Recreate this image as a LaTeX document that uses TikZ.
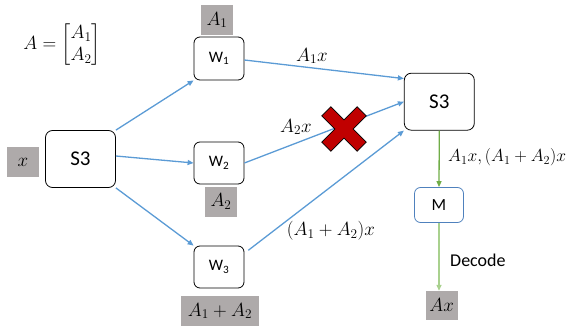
\RequirePackage{fix-cm}
\documentclass[tikz,border=0pt]{standalone}
\usepackage{amsmath}
\usepackage{fontspec}
\setmainfont{Carlito}
\usetikzlibrary{arrows.meta,calc}
\definecolor{lineblue}{RGB}{91,155,213}
\definecolor{boxgray}{RGB}{174,170,170}
\definecolor{xred}{RGB}{192,0,0}
\definecolor{dgreen}{RGB}{112,173,71}
\definecolor{lgreen}{RGB}{169,209,142}
\definecolor{mblue}{RGB}{79,129,189}
\tikzset{
  rbox/.style={draw=black, line width=0.8pt, rounded corners=7pt, inner sep=0pt, font=\fontsize{16}{19}\selectfont},
  sbox/.style={rbox, minimum width=70pt, minimum height=57pt, font=\fontsize{21}{24}\selectfont},
  wbox/.style={rbox, minimum width=50pt, minimum height=42pt, rounded corners=6pt},
  gbox/.style={fill=boxgray, inner sep=0pt, minimum width=32pt, minimum height=30pt, font=\fontsize{19}{22}\selectfont},
  lbl/.style={inner sep=0pt, font=\fontsize{19}{22}\selectfont},
  txt/.style={inner sep=0pt, font=\fontsize{18}{21}\selectfont},
  barrow/.style={draw=lineblue, line width=1.3pt, -{Triangle[length=6pt,width=5pt]}},
}
\begin{document}
\begin{tikzpicture}[x=1pt,y=-1pt]
\useasboundingbox (0,0) rectangle (572,326);
% nodes
\node[sbox] (s3l) at (80.5,159) {S3};
\node[sbox] (s3r) at (439.3,101.7) {S3};
\node[wbox, minimum height=43pt] (w1) at (219,58.5) {W\textsubscript{1}};
\node[wbox] (w2) at (219,163) {W\textsubscript{2}};
\node[wbox] (w3) at (219,267) {W\textsubscript{3}};
\node[rbox, draw=mblue, minimum width=49pt, minimum height=35pt, rounded corners=6pt, font=\fontsize{17}{20}\selectfont] (m) at (439,205) {M};
\node[gbox] (xb) at (23,162) {$x$};
\node[gbox] (a1b) at (217,20) {$A_1$};
\node[gbox] (a2b) at (221,201.7) {$A_2$};
\node[gbox, minimum width=78pt] (a12b) at (220,311) {$A_1+A_2$};
\node[gbox, minimum height=29pt] (axb) at (441.7,305.5) {$Ax$};
% labels
\node[lbl] (mat) at (62,45) {$A=\begin{bmatrix}A_1\\A_2\end{bmatrix}$};
\node[lbl] (l1) at (312,56) {$A_1x$};
\node[lbl] (l2) at (296,127) {$A_2x$};
\node[lbl] (l3) at (331,231) {$(A_1+A_2)x$};
\node[lbl, anchor=west, font=\fontsize{17.5}{20}\selectfont] (l4) at (448,157) {$A_1x,(A_1+A_2)x$};
\node[txt, anchor=west] (dec) at (450,260) {Decode};
% connectors
\draw[barrow] (s3l.north east) -- (w1.south west);
\draw[barrow] ([yshift=3pt]s3l.east) -- (w2.west);
\draw[barrow] (s3l.south east) -- (w3.north west);
\draw[barrow] ([yshift=-1.5pt]w1.east) -- ($(s3r.north west)!0.1!(s3r.south west)$);
\draw[barrow] (w2.east) -- (s3r.west);
\draw[barrow, shorten <=5pt] ($(w3.north east)!0.18!(w3.south east)$) -- (s3r.south west);
\draw[draw=dgreen, line width=1.3pt, -{Triangle[length=6pt,width=5pt]}] (s3r.south) -- (m.north);
\draw[draw=lgreen, line width=1.3pt, -{Triangle[length=6pt,width=5pt]}] (m.south) -- (axb.north -| m.south);
% red cross
\begin{scope}[shift={(344,129)}, rotate=45]
\draw[fill=xred, draw=black, line width=0.7pt]
  (-6.5,25) -- (6.5,25) -- (6.5,6.5) -- (25,6.5) -- (25,-6.5) -- (6.5,-6.5) -- (6.5,-25)
  -- (-6.5,-25) -- (-6.5,-6.5) -- (-25,-6.5) -- (-25,6.5) -- (-6.5,6.5) -- cycle;
\end{scope}
\end{tikzpicture}
\end{document}
